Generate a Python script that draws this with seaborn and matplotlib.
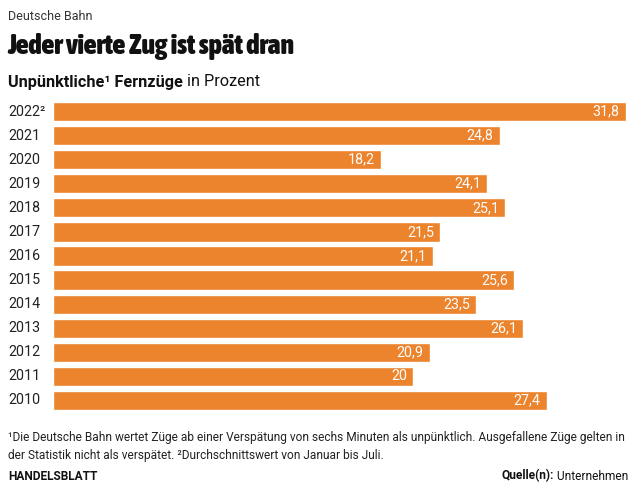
import matplotlib
matplotlib.use("Agg")
import matplotlib.pyplot as plt
from matplotlib import font_manager
import seaborn as sns
import pandas as pd

# data
years = ["2022²", "2021", "2020", "2019", "2018", "2017", "2016",
         "2015", "2014", "2013", "2012", "2011", "2010"]
values = [31.8, 24.8, 18.2, 24.1, 25.1, 21.5, 21.1,
          25.6, 23.5, 26.1, 20.9, 20.0, 27.4]
value_labels = ["31,8", "24,8", "18,2", "24,1", "25,1", "21,5", "21,1",
                "25,6", "23,5", "26,1", "20,9", "20", "27,4"]

df = pd.DataFrame({"year": years, "value": values})

sns.set_style("white")
plt.rcParams["font.family"] = ["Roboto", "DejaVu Sans"]

# pick the heaviest condensed face for the headline if one is installed
best = None
for f in font_manager.fontManager.ttflist:
    if ("Condensed" in f.name or "Narrow" in f.name) and f.style == "normal":
        wt = f.weight if isinstance(f.weight, int) else 400
        if best is None or wt > best[1]:
            best = (f.name, wt)
if best:
    title_family = [best[0], "DejaVu Sans"]
    title_weight = best[1]
else:
    title_family = ["Roboto", "DejaVu Sans"]
    title_weight = "heavy"
title_size = 20

orange = "#ec832d"
fig = plt.figure(figsize=(6.35, 4.92), dpi=100)
ax = fig.add_axes([53 / 635, 0.1616, 573 / 635, 0.7978 - 0.1616])

sns.barplot(data=df, x="value", y="year", color=orange, saturation=1,
            width=0.8, ax=ax)
ax.set_xlim(0, 31.8)
ax.set_ylim(12.5, -0.5)
ax.set_xlabel("")
ax.set_ylabel("")
ax.set_xticks([])
ax.set_yticks([])
sns.despine(ax=ax, left=True, bottom=True)

# value labels inside bars
for i, (v, lab) in enumerate(zip(values, value_labels)):
    ax.text(v - 0.35, i, lab, ha="right", va="center", color="white",
            fontsize=10.3)

# year labels on the left
for i, y in enumerate(years):
    fy = fig.transFigure.inverted().transform(ax.transData.transform((0, i)))[1]
    fig.text(8 / 635, fy, y, ha="left", va="center", fontsize=10.3,
             color="#222222")

# header
fig.text(8 / 635, 1 - 17 / 492, "Deutsche Bahn", fontsize=9, va="center",
         color="#333333")
t = fig.text(7 / 635, 1 - 47 / 492, "Jeder vierte Zug ist spät dran",
             fontsize=title_size, fontweight=title_weight, va="center",
             color="#111111", family=title_family)

renderer = fig.canvas.get_renderer()
# squeeze headline to the reference width if it is too wide
w = t.get_window_extent(renderer).width
if w > 290:
    t.set_fontsize(title_size * 288 / w)


def run_text(x, y, parts, size, ha="left"):
    # draw a sequence of (text, weight) pieces next to each other
    texts = []
    total = 0
    for s, wt in parts:
        tt = fig.text(0, y, s, fontsize=size, fontweight=wt, va="center",
                      color="#111111")
        bb = tt.get_window_extent(renderer)
        texts.append((tt, bb.width))
        total += bb.width
    start = x * 635 if ha == "left" else x * 635 - total
    for tt, wpx in texts:
        tt.set_x(start / 635)
        start += wpx


run_text(8 / 635, 1 - 82 / 492,
         [("Unpünktliche¹ Fernzüge", "bold"), (" in Prozent", "normal")], 11.7)

fig.text(8 / 635, 1 - 438 / 492,
         "¹Die Deutsche Bahn wertet Züge ab einer Verspätung von sechs Minuten "
         "als unpünktlich. Ausgefallene Züge gelten in",
         fontsize=8.6, va="center", color="#222222")
fig.text(8 / 635, 1 - 455 / 492,
         "der Statistik nicht als verspätet. ²Durchschnittswert von Januar bis Juli.",
         fontsize=8.6, va="center", color="#222222")
fig.text(8 / 635, 1 - 476 / 492, "HANDELSBLATT", fontsize=8.6,
         fontweight="bold", va="center", color="#111111")
run_text(628 / 635, 1 - 476 / 492,
         [("Quelle(n):", "bold"), (" Unternehmen", "normal")], 8.6, ha="right")

fig.savefig("out.png", dpi=100)
